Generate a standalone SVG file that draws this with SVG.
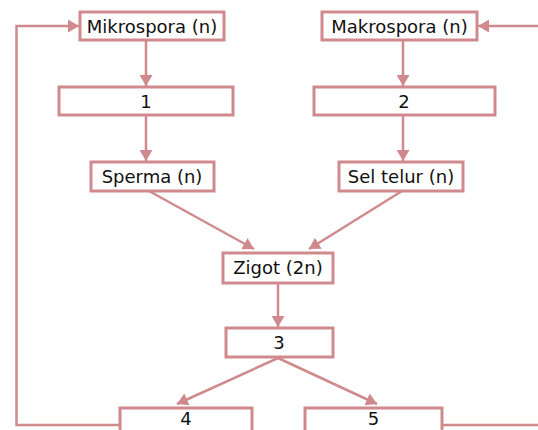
<svg xmlns="http://www.w3.org/2000/svg" width="538" height="430" viewBox="0 0 538 430">
  <style>
    .box { fill: #ffffff; stroke: #d08a8d; stroke-width: 3; }
    .lbl { font-family: "DejaVu Sans", "Verdana", sans-serif; font-size: 18px; fill: #111111; text-anchor: middle; }
    .wire { fill: none; stroke: #d08a8d; stroke-width: 2.5; }
  </style>
  <defs>
    <marker id="arrow" viewBox="0 0 11 13" refX="11" refY="6.5" markerWidth="11" markerHeight="13" markerUnits="userSpaceOnUse" orient="auto">
      <path d="M0,0 L11,6.5 L0,13 Z" fill="#d08a8d"/>
    </marker>
  </defs>

  <rect width="538" height="430" fill="#ffffff"/>

  <!-- connectors -->
  <g id="connectors">
    <polyline class="wire" points="120,425 16.5,425 16.5,26 79,26" marker-end="url(#arrow)"/>
    <polyline class="wire" points="442,425 540,425"/>
    <line class="wire" x1="540" y1="26" x2="478" y2="26" marker-end="url(#arrow)"/>
    <line class="wire" x1="146" y1="40" x2="146" y2="86" marker-end="url(#arrow)"/>
    <line class="wire" x1="403" y1="40" x2="403" y2="86" marker-end="url(#arrow)"/>
    <line class="wire" x1="146" y1="115" x2="146" y2="161" marker-end="url(#arrow)"/>
    <line class="wire" x1="403" y1="115" x2="403" y2="161" marker-end="url(#arrow)"/>
    <line class="wire" x1="149" y1="191" x2="254" y2="249" marker-end="url(#arrow)"/>
    <line class="wire" x1="402" y1="191" x2="309" y2="249" marker-end="url(#arrow)"/>
    <line class="wire" x1="278" y1="283" x2="278" y2="327" marker-end="url(#arrow)"/>
    <line class="wire" x1="278" y1="358" x2="177" y2="404" marker-end="url(#arrow)"/>
    <line class="wire" x1="278" y1="358" x2="377" y2="404" marker-end="url(#arrow)"/>
  </g>

  <g id="mikrospora">
    <rect class="box" x="80" y="12" width="144" height="28"/>
    <text class="lbl" x="152" y="33">Mikrospora (n)</text>
  </g>
  <g id="makrospora">
    <rect class="box" x="322" y="12" width="155" height="28"/>
    <text class="lbl" x="399.5" y="33">Makrospora (n)</text>
  </g>
  <g id="step1">
    <rect class="box" x="59" y="87" width="174" height="28"/>
    <text class="lbl" x="146" y="108">1</text>
  </g>
  <g id="step2">
    <rect class="box" x="314" y="87" width="181" height="28"/>
    <text class="lbl" x="404" y="108">2</text>
  </g>
  <g id="sperma">
    <rect class="box" x="91" y="162" width="123" height="29"/>
    <text class="lbl" x="152" y="183">Sperma (n)</text>
  </g>
  <g id="sel-telur">
    <rect class="box" x="339" y="162" width="124" height="29"/>
    <text class="lbl" x="401" y="183">Sel telur (n)</text>
  </g>
  <g id="zigot">
    <rect class="box" x="223" y="253" width="110" height="30"/>
    <text class="lbl" x="278" y="274">Zigot (2n)</text>
  </g>
  <g id="step3">
    <rect class="box" x="226" y="328" width="107" height="29"/>
    <text class="lbl" x="279" y="349">3</text>
  </g>
  <g id="step4">
    <rect class="box" x="120" y="408" width="132" height="40"/>
    <text class="lbl" x="186" y="425">4</text>
  </g>
  <g id="step5">
    <rect class="box" x="305" y="408" width="137" height="40"/>
    <text class="lbl" x="373.5" y="425">5</text>
  </g>
</svg>
